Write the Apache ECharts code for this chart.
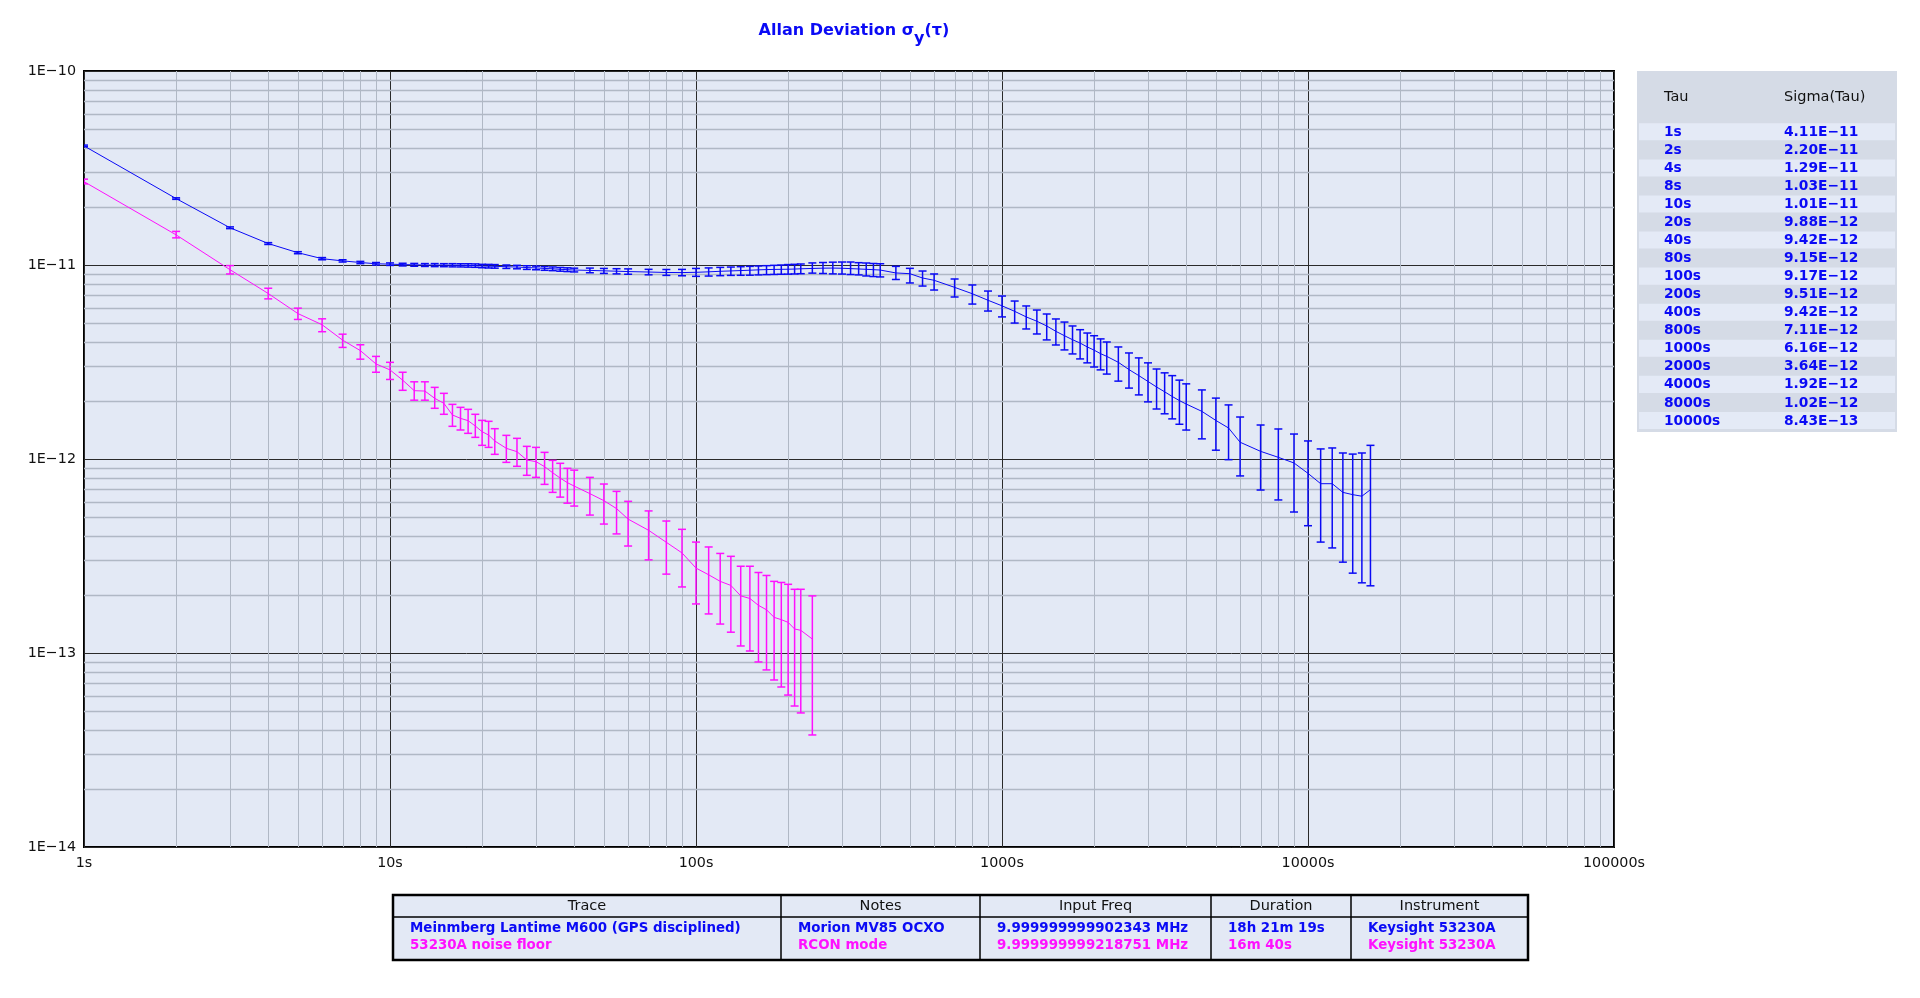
<!DOCTYPE html>
<html><head><meta charset="utf-8">
<script src="https://cdn.jsdelivr.net/npm/echarts@6/dist/echarts.min.js"></script>
<style>html,body{margin:0;padding:0;background:#fff;}#c{width:1920px;height:998px;}</style>
</head><body><div id="c"></div>
<script>
// ---------- DATA (sigma values are in units of 1E-12) ----------
const blueTau = [1,2,3,4,5,6,7,8,9,10,11,12,13,14,15,16,17,18,19,20,21,22,24,26,28,30,32,34,36,38,40,45,50,55,60,70,80,90,100,110,120,130,140,150,160,170,180,190,200,210,220,240,260,280,300,320,340,360,380,400,450,500,550,600,700,800,900,1000,1100,1200,1300,1400,1500,1600,1700,1800,1900,2000,2100,2200,2400,2600,2800,3000,3200,3400,3600,3800,4000,4500,5000,5500,6000,7000,8000,9000,10000,11000,12000,13000,14000,15000,16000];
const blueSigma = [41.1,22.0,15.56,12.9,11.57,10.78,10.50,10.30,10.15,10.10,
  10.05,10.02,10.00,9.99,9.98,9.97,9.96,9.95,9.93,9.88,9.86,9.84,
  9.80,9.76,9.70,9.66,9.60,9.56,9.50,9.46,9.42,
  9.38,9.33,9.29,9.25, 9.20,9.15,9.14,
  9.17,9.22,9.28,9.32,9.36,9.40,9.44,9.47,9.49,9.50,9.51,9.53,9.56,
  9.60,9.63,9.64,9.62,9.58,9.54,9.50,9.46,9.42,
  9.10,9.02,8.57,8.34, 7.67,7.11,6.58,
  6.16,5.77,5.40,5.13,4.85,4.55,4.32,4.12,3.96,3.78,3.64,3.49,3.38,
  3.15,2.89,2.69,2.51,2.35,2.22,2.10,2.00,1.92,
  1.76,1.58,1.445,1.22, 1.095,1.02,0.954,
  0.843,0.746,0.746,0.673,0.655,0.643,0.695];
const blueHi = [41.5,22.2,15.72,13.04,11.71,10.92,10.64,10.44,10.30,10.25,
  10.21,10.19,10.17,10.17,10.16,10.16,10.15,10.15,10.13,10.08,10.07,10.05,
  10.00,9.96,9.91,9.87,9.81,9.77,9.71,9.67,9.63,
  9.64,9.60,9.57,9.55, 9.50,9.48,9.49,
  9.60,9.66,9.72,9.76,9.80,9.84,9.88,9.92,9.96,10.00,10.05,10.08,10.12,
  10.25,10.30,10.34,10.36,10.36,10.28,10.24,10.18,10.15,
  9.84,9.61,9.31,8.99, 8.47,7.89,7.34,
  6.92,6.52,6.15,5.86,5.59,5.27,5.08,4.85,4.64,4.46,4.32,4.16,4.01,
  3.78,3.52,3.32,3.13,2.91,2.78,2.69,2.55,2.44,
  2.27,2.06,1.90,1.646, 1.497,1.428,1.345,
  1.239,1.127,1.14,1.074,1.06,1.074,1.176];
const blueLo = [40.7,21.8,15.40,12.76,11.43,10.64,10.36,10.16,10.00,9.95,
  9.89,9.85,9.83,9.81,9.80,9.78,9.77,9.75,9.73,9.68,9.65,9.63,
  9.60,9.56,9.49,9.45,9.39,9.35,9.29,9.25,9.21,
  9.12,9.05,9.00,8.96, 8.90,8.84,8.80,
  8.74,8.77,8.81,8.84,8.85,8.86,8.89,8.92,8.94,8.96,8.97,8.99,9.02,
  9.08,9.04,9.00,8.98,8.93,8.89,8.78,8.72,8.68,
  8.42,8.08,7.79,7.43, 6.84,6.29,5.79,
  5.40,5.02,4.68,4.41,4.11,3.87,3.65,3.48,3.28,3.13,2.98,2.88,2.74,
  2.52,2.32,2.14,1.97,1.81,1.71,1.61,1.51,1.41,
  1.27,1.11,0.992,0.818, 0.692,0.615,0.533,
  0.453,0.373,0.348,0.294,0.258,0.230,0.222];

const pinkTau = [1,2,3,4,5,6,7,8,9,10,11,12,13,14,15,16,17,18,19,20,21,22,24,26,28,30,32,34,36,38,40,45,50,55,60,70,80,90,100,110,120,130,140,150,160,170,180,190,200,210,220,240];
const pinkSigma = [26.9,14.3,9.46,7.13,5.62,4.92,4.10,3.62,3.09,2.88,
  2.55,2.25,2.24,2.055,1.936,1.686,1.62,1.576,1.479,1.383,1.329,1.238,
  1.135,1.091,0.988,0.969,0.913,0.850,0.797,0.755,0.725,
  0.663,0.610,0.555,0.490, 0.429,0.372,0.328,
  0.274,0.253,0.234,0.223,0.197,0.191,0.176,0.167,0.1527,0.1485,0.1439,0.133,0.1309,
  0.118];
const pinkHi = [27.7,14.9,9.93,7.59,5.99,5.28,4.40,3.88,3.38,3.15,
  2.80,2.50,2.50,2.34,2.18,1.913,1.846,1.803,1.70,1.582,1.564,1.433,
  1.324,1.278,1.162,1.148,1.082,0.984,0.950,0.895,0.876,
  0.804,0.743,0.681,0.605, 0.540,0.479,0.434,
  0.373,0.352,0.326,0.315,0.280,0.280,0.260,0.251,0.234,0.231,0.226,0.213,0.213,
  0.197];
const pinkLo = [26.2,13.8,8.99,6.69,5.24,4.53,3.76,3.27,2.80,2.57,
  2.26,2.01,2.01,1.825,1.70,1.474,1.411,1.356,1.293,1.176,1.148,1.057,
  0.961,0.917,0.824,0.804,0.740,0.673,0.636,0.592,0.572,
  0.514,0.462,0.411,0.356, 0.302,0.255,0.219,
  0.179,0.159,0.141,0.128,0.1087,0.1024,0.0899,0.0818,0.0726,0.0668,0.0607,0.0533,0.0491,
  0.0378];

const xTickLabels = ['1s','10s','100s','1000s','10000s','100000s'];
const yTickLabels = ['1E\u221214','1E\u221213','1E\u221212','1E\u221211','1E\u221210'];

const tableTau = ['1s','2s','4s','8s','10s','20s','40s','80s','100s','200s','400s','800s','1000s','2000s','4000s','8000s','10000s'];
const tableSigma = ['4.11E\u221211','2.20E\u221211','1.29E\u221211','1.03E\u221211','1.01E\u221211','9.88E\u221212','9.42E\u221212','9.15E\u221212','9.17E\u221212','9.51E\u221212','9.42E\u221212','7.11E\u221212','6.16E\u221212','3.64E\u221212','1.92E\u221212','1.02E\u221212','8.43E\u221213'];

const legendHeaders = ['Trace','Notes','Input Freq','Duration','Instrument'];
const legendRows = [
  ['Meinmberg Lantime M600 (GPS disciplined)','Morion MV85 OCXO','9.999999999902343 MHz','18h 21m 19s','Keysight 53230A'],
  ['53230A noise floor','RCON mode','9.999999999218751 MHz','16m 40s','Keysight 53230A']
];

// ---------- STYLE ----------
const BLUE = '#0a0af5', PINK = '#ff10ff';
const UNIT = 1e-12;
const FONT = '"DejaVu Sans", Verdana, sans-serif';

const G = {left: 84, top: 71, width: 1530, height: 776};

// minor grid positions (2..9 per decade)
const minorX = [], minorY = [];
for (let e = 0; e < 5; e++) for (let m = 2; m <= 9; m++) minorX.push(m * Math.pow(10, e));
for (let e = -14; e < -10; e++) for (let m = 2; m <= 9; m++) minorY.push(m * Math.pow(10, e));

function pairs(t, v) { return t.map((x, i) => [x, v[i] * UNIT]); }
function bars(t, lo, hi) { return t.map((x, i) => [x, lo[i] * UNIT, hi[i] * UNIT]); }

function errRender(color) {
  return function (params, api) {
    const x = api.value(0);
    const a = api.coord([x, api.value(1)]);
    const b = api.coord([x, api.value(2)]);
    const hw = 4;
    const st = {stroke: color, lineWidth: 1.5};
    return {type: 'group', children: [
      {type: 'line', shape: {x1: a[0], y1: a[1], x2: b[0], y2: b[1]}, style: st},
      {type: 'line', shape: {x1: a[0] - hw, y1: a[1], x2: a[0] + hw, y2: a[1]}, style: st},
      {type: 'line', shape: {x1: b[0] - hw, y1: b[1], x2: b[0] + hw, y2: b[1]}, style: st}
    ]};
  };
}

// ---------- graphic: tau/sigma panel and legend table ----------
const graphics = [];
const PX = 1637, PY = 71, PW = 260, PH = 361;
graphics.push({type: 'rect', shape: {x: PX, y: PY, width: PW, height: PH}, style: {fill: '#d5dbe6'}, silent: true});
const rowTop = 123.3, rowH = 18.04;
tableTau.forEach((t, i) => {
  graphics.push({type: 'rect', shape: {x: PX + 2, y: rowTop + i * rowH, width: PW - 4, height: rowH - 1},
    style: {fill: i % 2 === 0 ? '#e4eaf6' : '#d5dbe6'}, silent: true});
  graphics.push({type: 'text', x: 1664, y: rowTop + i * rowH + rowH / 2, style: {text: t, fill: BLUE,
    font: 'bold 13.8px ' + FONT, textVerticalAlign: 'middle'}, silent: true});
  graphics.push({type: 'text', x: 1784, y: rowTop + i * rowH + rowH / 2, style: {text: tableSigma[i], fill: BLUE,
    font: 'bold 13.8px ' + FONT, textVerticalAlign: 'middle'}, silent: true});
});
graphics.push({type: 'text', x: 1664, y: 97, style: {text: 'Tau', fill: '#111', font: '14.5px ' + FONT, textVerticalAlign: 'middle'}, silent: true});
graphics.push({type: 'text', x: 1784, y: 97, style: {text: 'Sigma(Tau)', fill: '#111', font: '14.5px ' + FONT, textVerticalAlign: 'middle'}, silent: true});

// legend table
const TX = 393, TY = 895, TW = 1135, TH = 65, THEAD = 22;
const colEdges = [393, 781, 980, 1211, 1351, 1528];
graphics.push({type: 'rect', shape: {x: TX, y: TY, width: TW, height: TH}, style: {fill: '#e3e9f5', stroke: '#000', lineWidth: 2.5}, silent: true});
graphics.push({type: 'line', shape: {x1: TX, y1: TY + THEAD, x2: TX + TW, y2: TY + THEAD}, style: {stroke: '#000', lineWidth: 1.5}, silent: true});
for (let k = 1; k < colEdges.length - 1; k++) {
  graphics.push({type: 'line', shape: {x1: colEdges[k], y1: TY, x2: colEdges[k], y2: TY + TH}, style: {stroke: '#000', lineWidth: 1.5}, silent: true});
}
legendHeaders.forEach((h, k) => {
  graphics.push({type: 'text', x: (colEdges[k] + colEdges[k + 1]) / 2, y: TY + THEAD / 2 + 0.5,
    style: {text: h, fill: '#111', font: '14.5px ' + FONT, textAlign: 'center', textVerticalAlign: 'middle'}, silent: true});
});
legendRows.forEach((row, r) => {
  row.forEach((txt, k) => {
    graphics.push({type: 'text', x: colEdges[k] + 17, y: 929 + r * 17,
      style: {text: txt, fill: r === 0 ? BLUE : PINK, font: 'bold 13.4px ' + FONT, textVerticalAlign: 'middle'}, silent: true});
  });
});

// ---------- CHART ----------
const chart = echarts.init(document.getElementById('c'), null, {renderer: 'canvas'});
chart.setOption({
  animation: false,
  backgroundColor: '#ffffff',
  title: {
    text: '{a|Allan Deviation σ}{b|y}{a|(τ)}',
    left: 849, top: 18, textAlign: 'center',
    textStyle: {
      rich: {
        a: {fontFamily: 'DejaVu Sans', fontWeight: 'bold', fontSize: 16, color: BLUE, lineHeight: 18, verticalAlign: 'top'},
        b: {fontFamily: 'DejaVu Sans', fontWeight: 'bold', fontSize: 16, color: BLUE, lineHeight: 32, verticalAlign: 'middle'}
      }
    }
  },
  grid: {left: G.left, top: G.top, width: G.width, height: G.height, show: true,
    backgroundColor: '#e3e9f5', borderColor: '#000', borderWidth: 2, containLabel: false},
  xAxis: {
    type: 'log', logBase: 10, min: 1, max: 100000,
    axisLine: {show: false}, axisTick: {show: false},
    axisLabel: {formatter: v => xTickLabels[Math.round(Math.log10(v))], color: '#111', fontSize: 14.3, fontFamily: 'DejaVu Sans', margin: 9},
    splitLine: {show: true, lineStyle: {color: '#2a2a2a', width: 1}}
  },
  yAxis: {
    type: 'log', logBase: 10, min: 1e-14, max: 1e-10,
    axisLine: {show: false}, axisTick: {show: false},
    axisLabel: {formatter: v => yTickLabels[Math.round(Math.log10(v)) + 14], color: '#111', fontSize: 14.3, fontFamily: 'DejaVu Sans', margin: 8},
    splitLine: {show: true, lineStyle: {color: '#2a2a2a', width: 1}}
  },
  graphic: graphics,
  series: [
    {type: 'custom', name: 'minorX', z: 1, silent: true, clip: true,
      data: minorX.map(v => [v, 1e-12]),
      renderItem: (p, api) => {
        const x = api.value(0);
        const a = api.coord([x, 1e-14]), b = api.coord([x, 1e-10]);
        const xx = Math.round(a[0]) + 0.5;
        return {type: 'line', shape: {x1: xx, y1: a[1], x2: xx, y2: b[1]}, style: {stroke: '#b0b8c5', lineWidth: 1}};
      }},
    {type: 'custom', name: 'minorY', z: 1, silent: true, clip: true,
      data: minorY.map(v => [10, v]),
      renderItem: (p, api) => {
        const y = api.value(1);
        const a = api.coord([1, y]), b = api.coord([100000, y]);
        const yy = Math.round(a[1]) + 0.5;
        return {type: 'line', shape: {x1: a[0], y1: yy, x2: b[0], y2: yy}, style: {stroke: '#b0b8c5', lineWidth: 1.3}};
      }},
    {type: 'line', name: 'blue', data: pairs(blueTau, blueSigma), showSymbol: false, z: 3,
      lineStyle: {color: BLUE, width: 1}, itemStyle: {color: BLUE}, clip: true},
    {type: 'custom', name: 'blueErr', data: bars(blueTau, blueLo, blueHi), z: 4, clip: true,
      renderItem: errRender(BLUE)},
    {type: 'line', name: 'pink', data: pairs(pinkTau, pinkSigma), showSymbol: false, z: 3,
      lineStyle: {color: PINK, width: 1}, itemStyle: {color: PINK}, clip: true},
    {type: 'custom', name: 'pinkErr', data: bars(pinkTau, pinkLo, pinkHi), z: 4, clip: true,
      renderItem: errRender(PINK)}
  ]
});
</script></body></html>
